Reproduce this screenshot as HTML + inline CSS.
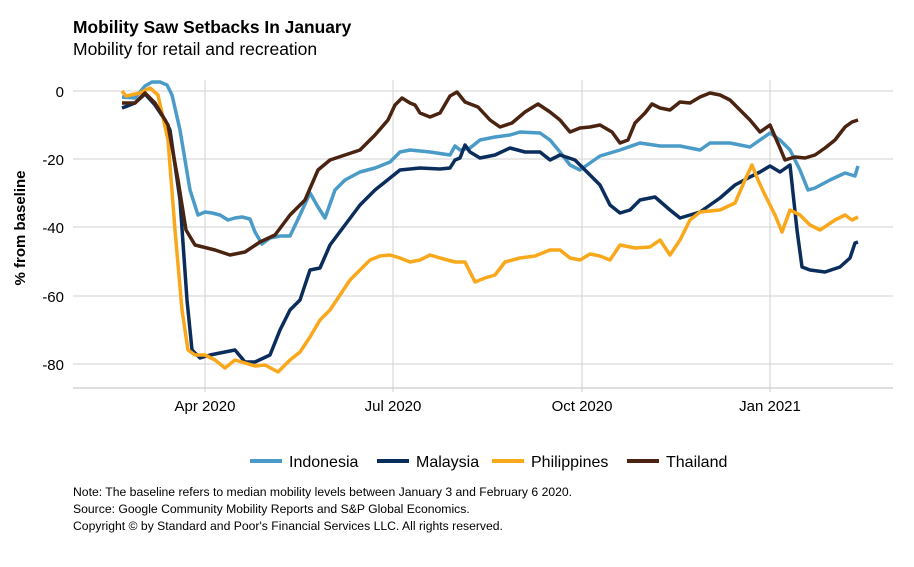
<!DOCTYPE html><html><head><style>body{margin:0;background:#fff;font-family:"Liberation Sans",sans-serif}</style></head><body>
<svg width="914" height="562" xmlns="http://www.w3.org/2000/svg" font-family="Liberation Sans, sans-serif">
<text x="73" y="33" font-size="17.4" font-weight="bold">Mobility Saw Setbacks In January</text>
<text x="73" y="55" font-size="17.5">Mobility for retail and recreation</text>
<g stroke="#d9d9d9" stroke-width="1.2">
<line x1="73" x2="893" y1="91" y2="91"/><line x1="73" x2="893" y1="159" y2="159"/><line x1="73" x2="893" y1="227" y2="227"/><line x1="73" x2="893" y1="296" y2="296"/><line x1="73" x2="893" y1="364" y2="364"/>
<line x1="205" x2="205" y1="80" y2="392"/><line x1="393" x2="393" y1="80" y2="392"/><line x1="582" x2="582" y1="80" y2="392"/><line x1="770" x2="770" y1="80" y2="392"/>
<line x1="73" x2="893" y1="388" y2="388" stroke="#ccc"/></g>
<g font-size="15" text-anchor="end"><text x="64" y="97">0</text><text x="64" y="165">-20</text><text x="64" y="233">-40</text><text x="64" y="302">-60</text><text x="64" y="370">-80</text></g>
<g font-size="15" text-anchor="middle"><text x="205" y="411">Apr 2020</text><text x="393" y="411">Jul 2020</text><text x="582" y="411">Oct 2020</text><text x="770" y="411">Jan 2021</text></g>
<text transform="translate(25,228) rotate(-90)" font-size="15" font-weight="bold" text-anchor="middle">% from baseline</text>
<g fill="none" stroke-width="3.5" stroke-linejoin="round">
<polyline stroke="#4a9bc7" points="122,97 135,98 145,86 152,82 160,82 167,85 172,95 180,130 190,190 198,215 205,212 212,213 220,215 228,220 235,218 242,217 250,219 255,232 262,244 270,238 280,236 290,236 300,215 310,193 318,207 325,218 335,190 345,180 360,172 375,168 390,162 400,152 410,150 430,152 450,155 455,146 460,150 470,148 480,140 495,137 510,135 520,132 540,133 550,140 560,152 570,165 580,170 590,163 600,156 620,150 640,143 660,146 680,146 700,150 710,143 730,143 750,147 760,140 770,133 780,140 790,150 800,170 808,190 815,188 830,180 845,173 855,176 858,166"/>
<polyline stroke="#0b2d5b" points="122,108 135,103 145,94 155,105 165,120 170,130 180,200 187,300 192,350 200,358 210,355 225,352 235,350 245,362 255,362 270,355 280,330 290,310 300,300 310,270 320,268 330,245 345,225 360,205 375,190 390,178 400,170 420,168 440,169 450,168 455,160 460,158 465,145 470,152 480,158 495,155 510,148 525,152 540,152 550,160 560,155 575,160 590,175 600,185 610,205 620,213 630,210 640,200 655,197 670,210 680,218 700,212 710,205 720,198 735,185 750,177 760,172 770,166 780,172 790,165 797,230 802,267 810,270 825,272 840,267 850,258 855,243 858,242"/>
<polyline stroke="#f9a81c" points="122,91 126,96 140,93 150,88 158,95 168,140 175,230 182,310 188,350 195,355 205,355 215,360 225,368 235,360 245,363 255,366 265,365 278,372 290,360 300,352 310,337 320,320 330,310 340,295 350,280 360,270 370,260 380,256 390,255 400,258 410,262 420,260 430,255 440,258 455,262 465,262 475,282 485,278 495,275 505,262 520,258 535,256 550,250 560,250 570,258 580,260 590,254 600,256 610,260 620,245 635,248 650,247 660,240 670,255 680,240 690,220 700,212 720,210 735,203 745,180 752,165 758,180 765,195 775,215 782,232 790,210 800,215 810,225 820,230 835,220 845,215 852,220 858,217"/>
<polyline stroke="#4a2311" points="122,103 135,103 145,93 155,103 168,125 178,180 186,230 195,245 215,250 230,255 245,252 260,242 275,235 290,215 305,200 318,170 330,160 345,155 360,150 375,135 388,120 395,105 402,98 410,103 415,105 420,113 430,117 440,113 450,96 457,92 465,102 478,107 490,120 500,127 512,123 525,112 538,104 550,112 560,120 570,132 580,128 590,127 600,125 612,132 620,143 628,140 635,123 645,113 652,104 660,108 670,110 680,102 690,103 700,97 710,93 720,95 730,100 740,110 750,120 760,132 770,125 780,148 785,160 795,157 805,158 815,155 825,148 835,140 845,127 852,122 858,120"/>
</g>
<g font-size="16">
<line x1="250" x2="282" y1="461" y2="461" stroke="#4a9bc7" stroke-width="4"/><text x="289" y="467">Indonesia</text>
<line x1="377" x2="409" y1="461" y2="461" stroke="#0b2d5b" stroke-width="4"/><text x="416" y="467">Malaysia</text>
<line x1="492" x2="524" y1="461" y2="461" stroke="#f9a81c" stroke-width="4"/><text x="531" y="467">Philippines</text>
<line x1="627" x2="659" y1="461" y2="461" stroke="#4a2311" stroke-width="4"/><text x="666" y="467">Thailand</text>
</g>
<g font-size="12.2"><text x="73" y="496">Note: The baseline refers to median mobility levels between January 3 and February 6 2020.</text>
<text x="73" y="513">Source: Google Community Mobility Reports and S&amp;P Global Economics.</text>
<text x="73" y="530">Copyright © by Standard and Poor's Financial Services LLC. All rights reserved.</text></g>
</svg></body></html>
